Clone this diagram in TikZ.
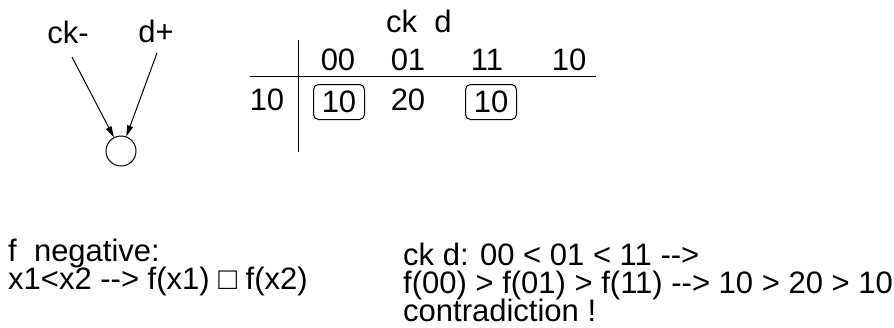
\documentclass[tikz,border=0pt]{standalone}
\usepackage{fontspec}
\setmainfont{Liberation Sans}
\usetikzlibrary{arrows.meta}
% two separate hyphens, kept apart so they are not joined into a dash
\newcommand\twohy{\mbox{-}\mbox{-}}
\begin{document}
\begin{tikzpicture}[x=1pt,y=-1pt,
  txt/.style={inner sep=0pt, font=\fontsize{31}{31}\selectfont},
  arr/.style={-{Triangle[length=11pt,width=6pt]}, line width=1pt},
  rule/.style={line width=1pt},
  cellbox/.style={draw, rounded corners=5pt, line width=1pt,
    minimum width=51pt, minimum height=35pt, inner sep=0pt,
    font=\fontsize{31}{31}\selectfont}]
\useasboundingbox (0,0) rectangle (894,327);

% signs of the two inputs feeding the function node
\node[txt, anchor=base] (ckm) at (68,43) {ck-};
\node[txt, anchor=base] (dp) at (156,42) {d+};
\node[draw, circle, minimum size=30pt, inner sep=0pt, line width=1pt] (fn) at (121,151) {};
\coordinate (ckfoot) at (72,57);
\coordinate (dfoot) at (157,53);
\draw[arr] (ckfoot) -- (fn);
\draw[arr] (dfoot) -- (fn);

% Karnaugh-style table
\node[txt, anchor=base west] (colvar) at (386,32) {ck\ \ d};
\coordinate (vtop) at (298,40);
\coordinate (vbot) at (298,152);
\coordinate (hl) at (250,76);
\coordinate (hr) at (596,76);
\draw[rule] (vtop) -- (vbot);
\draw[rule] (hl) -- (hr);

\node[txt, anchor=base] (h00) at (338,70) {00};
\node[txt, anchor=base] (h01) at (408,70) {01};
\node[txt, anchor=base] (h11) at (487,70) {11};
\node[txt, anchor=base] (h10) at (569,70) {10};

\node[txt, anchor=base] (row) at (267,110) {10};
\node[cellbox] (c00) at (339,102) {10};
\node[txt, anchor=base] (c01) at (408,110) {20};
\node[cellbox] (c11) at (491,102) {10};

% reasoning below
\node[txt, anchor=base west] (n1) at (8,261) {f\ \ negative:};
\node[txt, anchor=base west] (n2) at (8,289) {x1<x2 \twohy> f(x1) □ f(x2)};

\node[txt, anchor=base west] (r1) at (403,265) {ck d: 00 < 01 < 11 \twohy>};
\node[txt, anchor=base west] (r2) at (403,293) {f(00) > f(01) > f(11) \twohy> 10 > 20 > 10};
\node[txt, anchor=base west] (r3) at (403,321) {contradiction !};
\end{tikzpicture}
\end{document}
